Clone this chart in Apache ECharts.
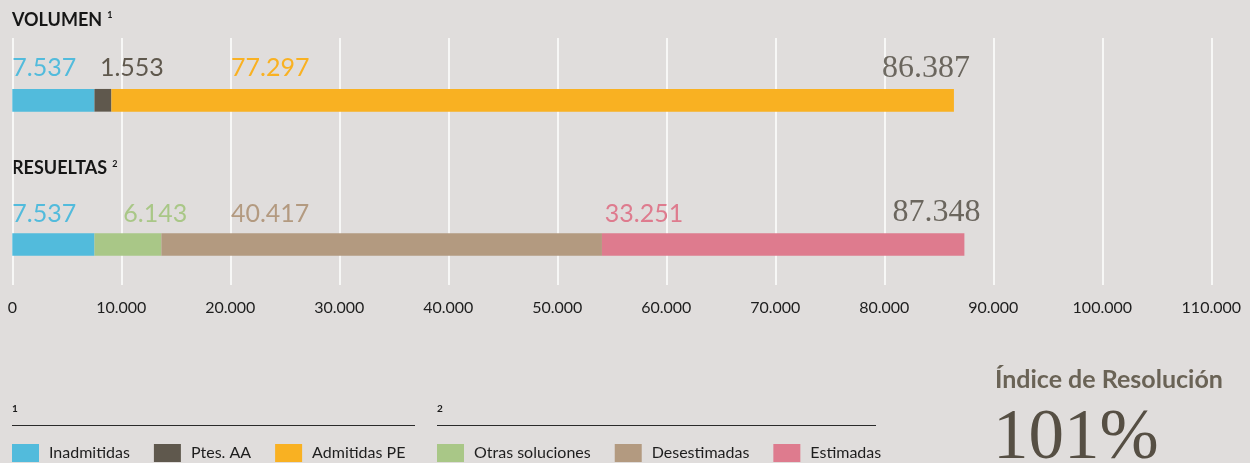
<!DOCTYPE html>
<html>
<head>
<meta charset="utf-8">
<script src="https://cdn.jsdelivr.net/npm/echarts@6/dist/echarts.min.js"></script>
<style>
  html, body { margin: 0; padding: 0; background: #e0dddc; }
  #chart { width: 1250px; height: 463px; }
</style>
</head>
<body>
<div id="chart"></div>
<script>
// ---- data ----
const categories = ['VOLUMEN', 'RESUELTAS'];
const categoryNotes = ['1', '2'];
const seriesNames = ['Inadmitidas', 'Ptes. AA', 'Admitidas PE', 'Otras soluciones', 'Desestimadas', 'Estimadas'];
const inadmitidas = [7537, 7537];
const ptesAA = [1553, null];
const admitidasPE = [77297, null];
const otrasSoluciones = [null, 6143];
const desestimadas = [null, 40417];
const estimadas = [null, 33251];
const totals = [86387, 87348];
const axisMin = 0;
const axisMax = 110000;
const axisStep = 10000;
const legendGroups = [
  ['Inadmitidas', 'Ptes. AA', 'Admitidas PE'],
  ['Otras soluciones', 'Desestimadas', 'Estimadas']
];
const indexTitle = 'Índice de Resolución';
const indexValue = '101%';

// ---- styling ----
const colors = {
  'Inadmitidas': '#52bbdc',
  'Ptes. AA': '#5f584d',
  'Admitidas PE': '#f9b122',
  'Otras soluciones': '#a9c787',
  'Desestimadas': '#b39a80',
  'Estimadas': '#de7b8e'
};
// horizontal nudge of each value label from the start of its segment
const labelNudge = {
  'Inadmitidas': [0, 0],
  'Ptes. AA': [5.5, 0],
  'Admitidas PE': [119.6, 0],
  'Otras soluciones': [0, 28.8],
  'Desestimadas': [0, 69.5],
  'Estimadas': [0, 2.8]
};
const labelRise = [-20.7, -19.7];
const SANS = 'Lato';
const SERIF = 'Liberation Serif';
const BG = '#e0dddc';

const values = {
  'Inadmitidas': inadmitidas,
  'Ptes. AA': ptesAA,
  'Admitidas PE': admitidasPE,
  'Otras soluciones': otrasSoluciones,
  'Desestimadas': desestimadas,
  'Estimadas': estimadas
};

function fmt(v) {
  return String(v).replace(/\B(?=(\d{3})+(?!\d))/g, '.');
}

const barSeries = seriesNames.map(name => ({
  name: name,
  type: 'bar',
  xAxisIndex: 1,
  yAxisIndex: 1,
  stack: 'total',
  barWidth: 22.7,
  itemStyle: { color: colors[name] },
  emphasis: { disabled: true },
  data: values[name].map((v, i) => v == null ? null : {
    value: v,
    label: {
      show: true,
      position: [labelNudge[name][i], labelRise[i]],
      align: 'left',
      verticalAlign: 'middle',
      formatter: p => fmt(p.value),
      fontFamily: SANS,
      fontSize: 25,
      color: colors[name]
    }
  })
}));

// bar totals, printed just past the end of each bar
const totalSeries = {
  name: 'Total',
  type: 'scatter',
  xAxisIndex: 1,
  yAxisIndex: 1,
  symbolSize: 0,
  silent: true,
  z: 5,
  data: totals.map((t, i) => [t, categories[i]]),
  label: {
    show: true,
    position: [16, -32],
    align: 'right',
    verticalAlign: 'middle',
    formatter: p => fmt(p.value[0]),
    fontFamily: SERIF,
    fontSize: 32,
    color: '#4e483e'
  }
};

const legendBase = {
  top: 444,
  padding: 0,
  itemWidth: 27,
  itemHeight: 18,
  itemGap: 24,
  icon: 'rect',
  selectedMode: true,
  textStyle: { fontFamily: SANS, fontSize: 16, color: '#1e1e1e', padding: [0, 0, 0, 5] }
};

const headingY = [20, 168.5];
const graphics = [];
categories.forEach((c, i) => {
  graphics.push({
    type: 'text',
    x: 12, y: headingY[i],
    style: {
      text: '{h|' + c + '}{s|' + categoryNotes[i] + '}',
      verticalAlign: 'middle',
      align: 'left',
      rich: {
        h: { fontFamily: SANS, fontWeight: 'bold', fontSize: 18, fill: '#161616', color: '#161616' },
        s: { fontFamily: SANS, fontWeight: 'bold', fontSize: 9, fill: '#161616', color: '#161616', verticalAlign: 'top', padding: [0, 0, 0, 5] }
      }
    }
  });
});
// footnote rules over each legend group
const noteX = [12, 437];
const noteEnd = [415, 876];
categoryNotes.forEach((n, i) => {
  graphics.push({
    type: 'text', x: noteX[i], y: 409,
    style: { text: n, fontFamily: SANS, fontWeight: 'bold', fontSize: 10, fill: '#1a1a1a', verticalAlign: 'middle' }
  });
  graphics.push({
    type: 'line',
    shape: { x1: noteX[i], y1: 425.5, x2: noteEnd[i], y2: 425.5 },
    style: { stroke: '#2a2a2a', lineWidth: 1.2 }
  });
});
graphics.push({
  type: 'text', x: 995, y: 380,
  style: { text: indexTitle, fontFamily: SANS, fontWeight: 'bold', fontSize: 25, fill: '#6a6356', verticalAlign: 'middle' }
});
graphics.push({
  type: 'text', x: 993, y: 439,
  style: { text: indexValue, fontFamily: SERIF, fontSize: 71, fill: '#564f44', verticalAlign: 'middle' }
});

const chart = echarts.init(document.getElementById('chart'), null, { renderer: 'canvas' });
chart.setOption({
  backgroundColor: BG,
  animation: false,
  grid: [
    { left: 12.3, right: 38.7, top: 38, height: 247 },
    { left: 12.3, right: 38.7, top: 28.2, height: 288.4 }
  ],
  xAxis: [
    {
      gridIndex: 0, type: 'value', min: axisMin, max: axisMax, interval: axisStep,
      axisLine: { show: false }, axisTick: { show: false },
      splitLine: { show: true, lineStyle: { color: '#ffffff', width: 1.5 } },
      axisLabel: { margin: 15, fontFamily: SANS, fontSize: 16, color: '#1e1e1e', formatter: v => fmt(v) }
    },
    {
      gridIndex: 1, type: 'value', min: axisMin, max: axisMax, interval: axisStep, show: false
    }
  ],
  yAxis: [
    { gridIndex: 0, type: 'category', data: categories, inverse: true, show: false },
    { gridIndex: 1, type: 'category', data: categories, inverse: true, show: false }
  ],
  legend: [
    Object.assign({}, legendBase, { left: 12, data: legendGroups[0] }),
    Object.assign({}, legendBase, { left: 437, data: legendGroups[1] })
  ],
  graphic: graphics,
  series: barSeries.concat([totalSeries])
});
</script>
</body>
</html>
